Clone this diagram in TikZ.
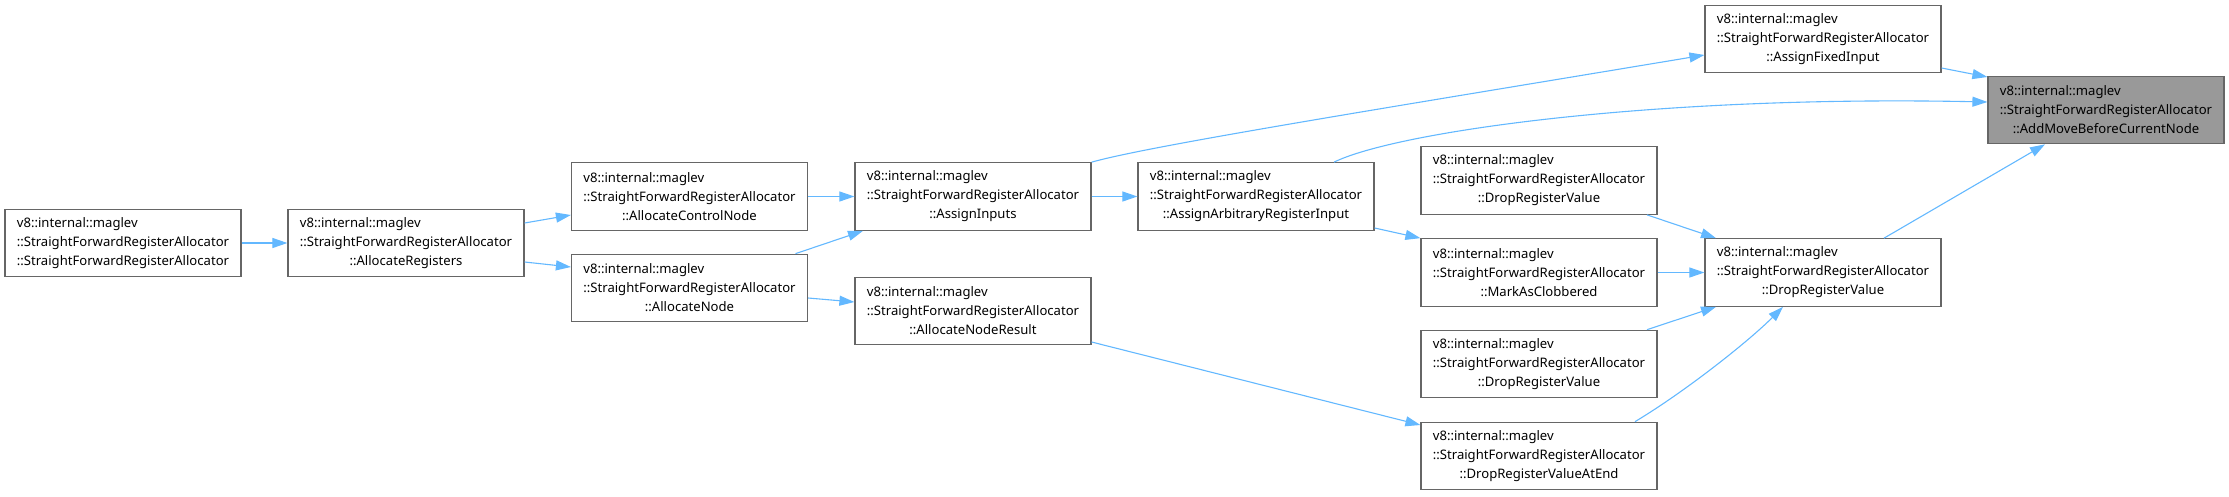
\documentclass[tikz,border=0pt]{standalone}
\usepackage{fontspec}
\setmainfont{Noto Sans}
\usetikzlibrary{arrows.meta}
\definecolor{edgecol}{HTML}{63B8FF}
\definecolor{bordercol}{HTML}{666666}
\definecolor{rootfill}{HTML}{999999}
\newcommand{\dlab}[1]{\rlap{v8::internal::maglev}\hphantom{::StraightForwardRegisterAllocator}\\::StraightForwardRegisterAllocator\\#1}
\begin{document}
\begin{tikzpicture}[x=1pt,y=-1pt,
  fn/.style={draw=bordercol, line width=1.2pt, fill=white, minimum width=236pt, minimum height=67.5pt, inner sep=0pt, align=center, font=\fontsize{13.1}{19}\selectfont},
  root/.style={fn, fill=rootfill},
  call/.style={draw=edgecol, line width=1.1pt, -{Triangle[length=15pt,width=10pt]}}]
\useasboundingbox (0,0) rectangle (2229,496);
\node[fn] (A) at (123,243) {\dlab{::StraightForwardRegisterAllocator}};
\node[fn] (B) at (406,243) {\dlab{::AllocateRegisters}};
\node[fn] (ACN) at (689.5,196.5) {\dlab{::AllocateControlNode}};
\node[fn] (AN) at (689.5,288) {\dlab{::AllocateNode}};
\node[fn] (AI) at (973,196.5) {\dlab{::AssignInputs}};
\node[fn] (ANR) at (973,311) {\dlab{::AllocateNodeResult}};
\node[fn] (AAR) at (1256,196.5) {\dlab{::AssignArbitraryRegisterInput}};
\node[fn] (DRVa) at (1539,180.5) {\dlab{::DropRegisterValue}};
\node[fn] (MAC) at (1539,272.5) {\dlab{::MarkAsClobbered}};
\node[fn] (DRVb) at (1539,364) {\dlab{::DropRegisterValue}};
\node[fn] (DRVE) at (1539,456) {\dlab{::DropRegisterValueAtEnd}};
\node[fn] (AFI) at (1823,39) {\dlab{::AssignFixedInput}};
\node[fn] (DRVm) at (1823,272.5) {\dlab{::DropRegisterValue}};
\node[root] (AMB) at (2106,110) {\dlab{::AddMoveBeforeCurrentNode}};

\draw[call] (A.east) -- (B.west);
\draw[call] ([yshift=20]B.east) -- ([yshift=-18.5]ACN.west);
\draw[call] ([yshift=-19]B.east) -- ([yshift=21]AN.west);
\draw[call] (ACN.east) -- (AI.west);
\draw[call] ([xshift=106]AN.north) -- ([xshift=-110]AI.south);
\draw[call] ([yshift=-10]AN.east) -- ([yshift=9]ANR.west);
\draw[call] (AI.east) -- (AAR.west);
\draw[call] (AI.north east) .. controls +(60,-17) and +(-300,50) .. ([yshift=-16]AFI.west);
\draw[call] ([xshift=78]AAR.north) .. controls +(61,-30) and +(-337,-7) .. ([yshift=8]AMB.west);
\draw[call] ([yshift=-31.5]AAR.east) -- (MAC.north west);
\draw[call] ([yshift=-29]AFI.east) -- ([yshift=33]AMB.west);
\draw[call] ([xshift=61]DRVm.north) -- ([xshift=-61]AMB.south);
\draw[call] ([xshift=108]DRVa.south) -- ([xshift=-107]DRVm.north);
\draw[call] (MAC.east) -- (DRVm.west);
\draw[call] ([xshift=108]DRVb.north) -- ([xshift=-107]DRVm.south);
\draw[call] ([xshift=96]DRVE.north) .. controls +(50,-30) and +(-35,35) .. ([xshift=-40]DRVm.south);
\draw[call] ([yshift=-31]ANR.east) -- ([yshift=31]DRVE.west);
\end{tikzpicture}
\end{document}
